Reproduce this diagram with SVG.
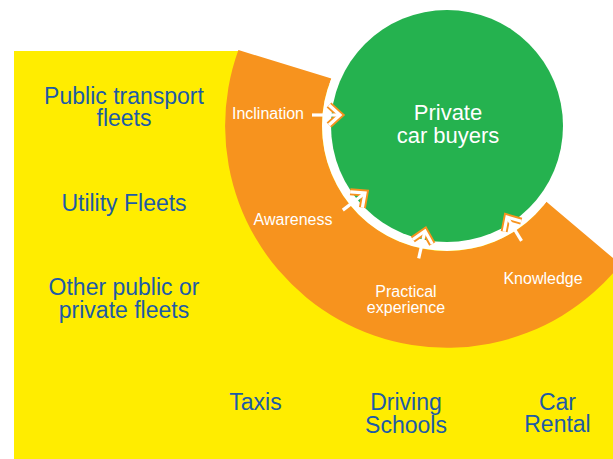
<svg xmlns="http://www.w3.org/2000/svg" width="613" height="459" viewBox="0 0 613 459">
<style>
.blue{font-family:"Liberation Sans",Arial,sans-serif;font-size:23px;fill:#1D5BA6;text-anchor:middle}
.wl{font-family:"Liberation Sans",Arial,sans-serif;font-size:16px;fill:#FFFFFF;text-anchor:middle}
.big{font-family:"Liberation Sans",Arial,sans-serif;font-size:22px;fill:#FFFFFF;text-anchor:middle}
.ao{fill:none;stroke:#F7931E;stroke-width:7;stroke-linejoin:miter;stroke-miterlimit:10}
.aw{fill:none;stroke:#FFFFFF;stroke-width:3.2;stroke-linejoin:miter;stroke-miterlimit:10}
.as{stroke:#FFFFFF;stroke-width:3.2}
</style>
<defs>
<g id="arrow">
<path class="ao" d="M-11,-10 L0,0 L-11,10"/>
<line class="as" x1="-28" y1="0" x2="-2" y2="0"/>
<path class="aw" d="M-11,-10 L0,0 L-11,10"/>
</g>
</defs>
<rect width="613" height="459" fill="#FFFFFF"/>
<g id="fleet-area">
<path d="M14,51 L238,51 L447,126 L613,265 L613,459 L14,459 Z" fill="#FFED00"/>
</g>
<g id="funnel">
<path d="M238.4,50.1 L331.35,78.55 A125,125 0 0 0 546.4,201.8 L620.5,264.4 A222,222 0 0 1 238.4,50.1 Z" fill="#F7931E"/>
</g>
<g id="private-car-buyers">
<circle cx="447" cy="126" r="125" fill="#FFFFFF"/>
<circle cx="447" cy="126" r="116" fill="#25B24F"/>
<text class="big" x="448" y="120">Private</text>
<text class="big" x="448" y="143">car buyers</text>
</g>
<g id="connectors">
<use href="#arrow" transform="translate(340,115)"/>
<use href="#arrow" transform="translate(365,193) rotate(-37.7)"/>
<use href="#arrow" transform="translate(425,231) rotate(-77)"/>
<use href="#arrow" transform="translate(507,217) rotate(-121.3)"/>
</g>
<g id="stage-labels">
<text class="wl" x="268" y="119">Inclination</text>
<text class="wl" x="293" y="225">Awareness</text>
<text class="wl" x="406" y="297">Practical</text>
<text class="wl" x="406" y="313">experience</text>
<text class="wl" x="543" y="284">Knowledge</text>
</g>
<g id="public-transport"><text class="blue" x="124" y="104">Public transport</text><text class="blue" x="124" y="126">fleets</text></g>
<g id="utility-fleets"><text class="blue" x="124" y="211">Utility Fleets</text></g>
<g id="other-fleets"><text class="blue" x="124" y="295">Other public or</text><text class="blue" x="124" y="318">private fleets</text></g>
<g id="taxis"><text class="blue" x="255.5" y="410">Taxis</text></g>
<g id="driving-schools"><text class="blue" x="406" y="410">Driving</text><text class="blue" x="406" y="433">Schools</text></g>
<g id="car-rental"><text class="blue" x="557.5" y="410">Car</text><text class="blue" x="557.5" y="432">Rental</text></g>
</svg>
